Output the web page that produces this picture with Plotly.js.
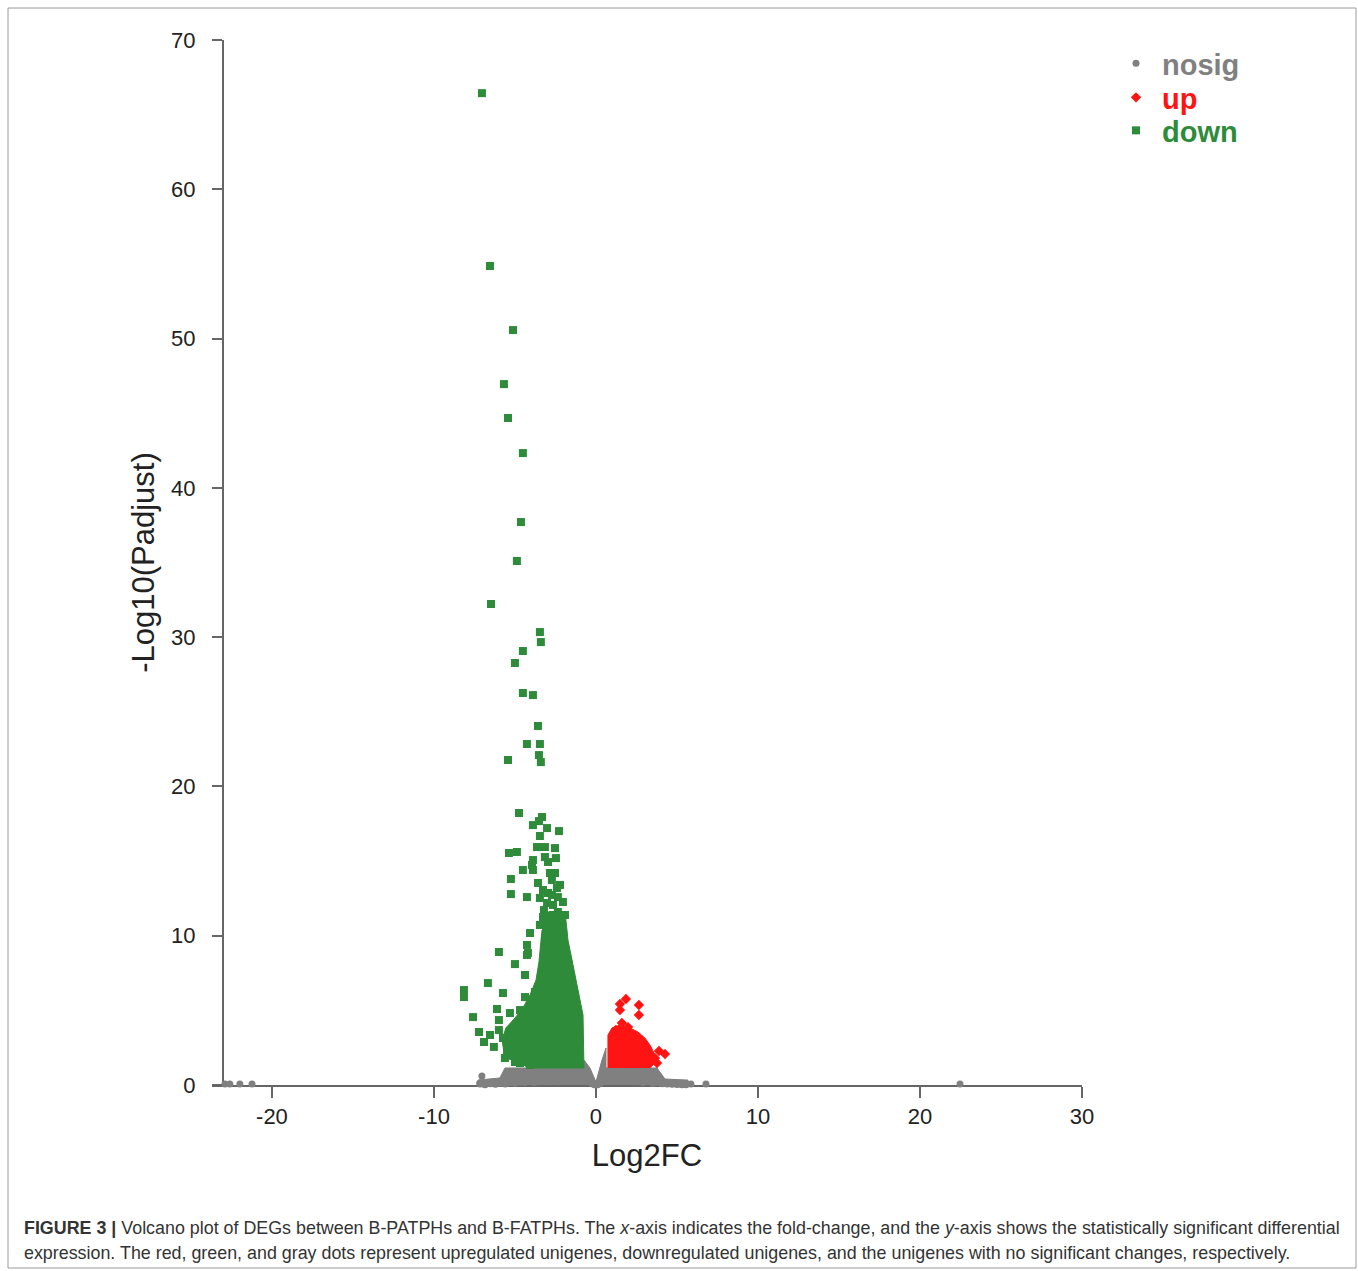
<!DOCTYPE html>
<html>
<head>
<meta charset="utf-8">
<script src="https://cdn.plot.ly/plotly-3.0.1.min.js"></script>
<style>html,body{margin:0;padding:0;background:#fff;}#chart{width:1358px;height:1271px;}</style>
</head>
<body>
<div id="chart"></div>
<script>
// ---- data ----
// "down" (green) individually visible points
const downX = [-7.04,-6.54,-5.12,-5.68,-5.43,-4.51,-4.63,-4.88,-6.48,-3.46,-3.40,-4.51,-5.00,-4.51,-3.89,-3.58,-4.26,-3.46,-3.52,-3.40,-5.43,
  -4.75,-3.33,-3.52,-3.89,-3.02,-2.28,-3.46,-3.64,-3.15,-2.53,-5.37,-4.88,-3.89,-3.15,-3.95,-4.51,-3.89,-2.84,-2.53,-5.25,-3.58,-3.27,-2.41,
  -5.25,-4.26,-3.46,-3.02,-2.04,-3.21,-1.91,-3.27,-2.84,-2.41,-3.46,-4.07,-3.02,-2.22,-4.26,-5.99,-4.20,-3.02,-2.04,-5.00,-4.26,-4.38,-6.67,
  -5.74,-8.15,-8.15,-4.38,-3.77,-3.27,-7.59,-6.11,-7.22,-6.54,-5.99,-5.99,-5.31,-4.69,-4.26,-5.74,-4.69,-4.07,
  -6.91,-6.30,-5.49,-5.19,-4.69,-5.62,-5.00,
  -2.65,-2.65,-2.96,-2.35,-2.72,-2.22,-2.53,-3.15,-2.10,
  -2.96,-2.47,-2.72,-2.22,-2.96,-2.35];
const downY = [66.44,54.86,50.57,46.95,44.68,42.33,37.71,35.10,32.22,30.34,29.67,29.07,28.27,26.26,26.12,24.05,22.84,22.84,22.10,21.63,21.77,
  18.22,17.95,17.68,17.41,17.21,17.01,16.68,15.94,15.94,15.87,15.54,15.61,15.07,15.27,14.74,14.40,14.40,14.20,14.20,13.80,13.53,13.06,13.19,
  12.79,12.59,12.53,12.19,12.26,11.72,11.39,11.25,11.05,10.58,10.72,10.18,10.18,9.91,9.38,8.91,8.84,9.24,8.91,8.10,8.71,7.37,6.83,
  6.16,6.36,5.89,5.89,6.23,6.56,4.55,5.09,3.55,3.35,3.68,4.35,4.82,5.02,4.35,3.15,1.47,1.34,
  2.88,2.55,2.21,2.68,2.88,1.81,1.54,
  12.06,11.39,10.72,11.59,12.73,11.05,10.38,9.85,9.38,
  14.94,15.20,13.73,13.40,12.86,12.59];
// outline of the dense "down" cloud
const downCloudX = [-3.27,-1.91,-1.79,-1.73,-1.54,-1.36,-1.17,-0.99,-0.80,-0.74,-4.20,-4.69,-5.62,-5.80,-5.56,-5.00,-4.51,-4.07,-3.70,-3.52,-3.40,-3.33];
const downCloudY = [11.59,11.59,10.38,9.71,8.71,7.70,6.70,5.69,4.69,1.14,1.14,1.54,1.81,3.01,3.82,4.49,5.16,6.03,7.03,8.24,9.38,10.38];

// "up" (red) individually visible points
const upX = [1.85,1.48,1.48,2.65,2.65,1.60,1.98,3.15,3.89,4.26,3.64,3.77,2.41,2.84,1.23,3.33];
const upY = [5.76,5.43,5.02,5.36,4.69,4.15,3.88,2.48,2.28,2.08,1.81,1.47,3.01,2.34,3.68,1.54];
// outline of the dense "up" cloud
const upCloudX = [0.74,0.74,0.99,1.48,2.10,2.59,3.02,3.33,3.64,3.70,3.33];
const upCloudY = [1.14,3.35,3.82,4.02,3.82,3.55,3.15,2.68,2.01,1.54,1.14];

// "nosig" (gray) isolated points
const nosigX = [-22.9,-22.6,-21.98,-21.23,5.86,6.79,22.47,-7.04,-3.64];
const nosigY = [0.07,0.07,0.07,0.07,0.07,0.07,0.07,0.60,0.80];
// dense "nosig" band along the x axis
const bandX = [-7.15,-6.85,-6.5,-6.2,-5.9,-5.6,-5.3,-5.0,-4.7,-4.4,-4.1,-3.8,-3.5,-3.2,-2.9,-2.6,-2.3,-2.0,-1.7,-1.4,-1.1,-0.8,-0.5,-0.25,-0.1,0.1,0.25,0.5,0.8,1.1,1.4,1.7,2.0,2.3,2.6,2.9,3.2,3.5,3.8,4.1,4.4,4.7,5.0,5.3,5.55];
const bandY = [0.1,0.05,0.12,0.08,0.15,0.1,0.2,0.15,0.22,0.2,0.25,0.2,0.25,0.3,0.25,0.3,0.25,0.3,0.35,0.3,0.4,0.35,0.3,0.15,0.05,0.05,0.15,0.3,0.35,0.3,0.35,0.3,0.3,0.25,0.25,0.2,0.25,0.15,0.2,0.12,0.1,0.08,0.06,0.05,0.05];
// outline of the gray region under the thresholds
const nosigCloudX = [-7.28,5.68,5.68,4.26,3.77,0.62,0.62,0.37,0.0,-0.37,-0.74,-0.74,-5.62,-5.93,-7.28];
const nosigCloudY = [0.0,0.0,0.33,0.40,1.14,1.14,2.48,1.67,0.20,1.14,1.67,1.14,1.14,0.47,0.33];

const xTicks = [-20,-10,0,10,20,30];
const yTicks = [0,10,20,30,40,50,60,70];
const captionLine1 = "<b>FIGURE 3 |</b> Volcano plot of DEGs between B-PATPHs and B-FATPHs. The <i>x</i>-axis indicates the fold-change, and the <i>y</i>-axis shows the statistically significant differential";
const captionLine2 = "expression. The red, green, and gray dots represent upregulated unigenes, downregulated unigenes, and the unigenes with no significant changes, respectively.";

// ---- styles ----
const GRAY = '#808080', RED = '#ff1414', GREEN = '#2e8b3a';

const traces = [
  {x: nosigCloudX, y: nosigCloudY, mode: 'lines', fill: 'toself', fillcolor: GRAY, line: {color: GRAY, width: 1}, showlegend: false, hoverinfo: 'skip'},
  {x: bandX, y: bandY, mode: 'markers', marker: {symbol: 'circle', size: 8, color: GRAY}, showlegend: false, cliponaxis: false},
  {x: nosigX, y: nosigY, mode: 'markers', name: '<b><span style="color:#808080">nosig</span></b>', legend: 'legend',
   marker: {symbol: 'circle', size: 7, color: GRAY}, cliponaxis: false},
  {x: downCloudX, y: downCloudY, mode: 'lines', fill: 'toself', fillcolor: GREEN, line: {color: GREEN, width: 1}, showlegend: false, hoverinfo: 'skip'},
  {x: downX, y: downY, mode: 'markers', name: '<b><span style="color:#2e8b3a">down</span></b>', legend: 'legend3',
   marker: {symbol: 'square', size: 8, color: GREEN}, cliponaxis: false},
  {x: upCloudX, y: upCloudY, mode: 'lines', fill: 'toself', fillcolor: RED, line: {color: RED, width: 1}, showlegend: false, hoverinfo: 'skip'},
  {x: upX, y: upY, mode: 'markers', name: '<b><span style="color:#ff1414">up</span></b>', legend: 'legend2',
   marker: {symbol: 'diamond', size: 8, color: RED}, cliponaxis: false}
];

const L = 212, R = 1082, T = 40, B = 1085;
const W = R - L, H = B - T;
const px = v => (v - L) / W;
const py = v => (B - v) / H;

function legendAt(rowCenter) {
  return {x: px(1110), y: py(rowCenter - 27), xanchor: 'left', yanchor: 'top', bgcolor: 'rgba(0,0,0,0)', borderwidth: 0,
          font: {size: 29, family: 'Liberation Sans, Arial, sans-serif'}, itemwidth: 42};
}

const layout = {
  width: 1358, height: 1271,
  margin: {l: L, r: 1358 - R, t: T, b: 1271 - B, pad: 0},
  paper_bgcolor: '#ffffff', plot_bgcolor: '#ffffff',
  font: {family: 'Liberation Sans, Arial, sans-serif', color: '#222222'},
  showlegend: true,
  legend: legendAt(65),
  legend2: legendAt(99),
  legend3: legendAt(132),
  xaxis: {range: [-23.7, 30], tickvals: xTicks, ticktext: xTicks.map(String), showgrid: false, zeroline: false,
          showline: true, linecolor: '#666666', linewidth: 2, ticks: 'outside', ticklen: 11, tickwidth: 2, tickcolor: '#666666',
          tickfont: {size: 22, color: '#222222'}, layer: 'below traces',
          title: {text: 'Log2FC', font: {size: 31, color: '#222222'}, standoff: 16}},
  yaxis: {range: [0, 70], tickvals: yTicks, ticktext: yTicks.map(String), showgrid: false, zeroline: false,
          anchor: 'free', position: px(223),
          showline: true, linecolor: '#666666', linewidth: 2, ticks: 'outside', ticklen: 10, tickwidth: 2, tickcolor: '#666666',
          tickfont: {size: 22, color: '#222222'}, ticklabelstandoff: 12, layer: 'below traces',
          title: {text: '-Log10(Padjust)', font: {size: 31, color: '#222222'}, standoff: 6}},
  shapes: [
    {type: 'rect', xref: 'paper', yref: 'paper', x0: px(8), x1: px(1356), y0: py(1268), y1: py(8),
     line: {color: '#9a9a9a', width: 1}, fillcolor: 'rgba(0,0,0,0)', layer: 'below'}
  ],
  annotations: [
    {xref: 'paper', yref: 'paper', x: px(22), y: py(1228), xanchor: 'left', yanchor: 'middle', showarrow: false,
     text: captionLine1, font: {size: 17.88, color: '#333333', family: 'Liberation Sans, Arial, sans-serif'}},
    {xref: 'paper', yref: 'paper', x: px(22), y: py(1253), xanchor: 'left', yanchor: 'middle', showarrow: false,
     text: captionLine2, font: {size: 17.88, color: '#333333', family: 'Liberation Sans, Arial, sans-serif'}}
  ]
};

Plotly.newPlot('chart', traces, layout, {displayModeBar: false, staticPlot: true});
</script>
</body>
</html>
